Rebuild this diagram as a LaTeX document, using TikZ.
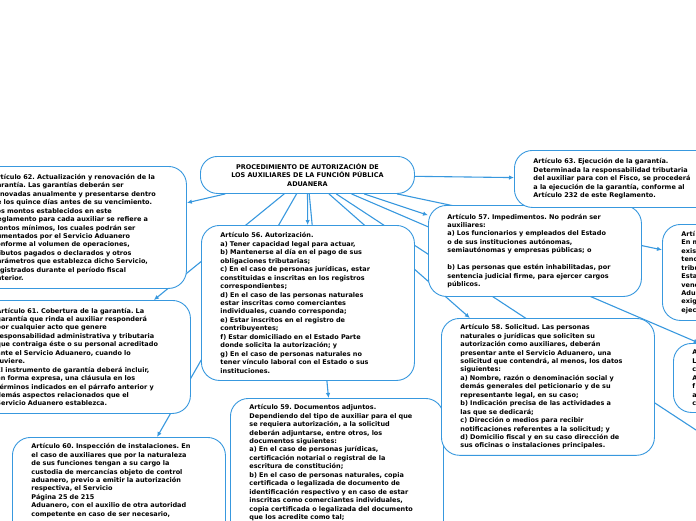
\documentclass[tikz,border=0pt]{standalone}
\usepackage{fontspec}
\setmainfont{DejaVu Sans}
\usetikzlibrary{arrows.meta, backgrounds}

\definecolor{mapblue}{RGB}{56,152,222}
\newcommand{\artfont}{\fontsize{6.5}{8.45}\selectfont\bfseries\frenchspacing}

\begin{document}
\begin{tikzpicture}[x=1pt, y=-1pt,
	art/.style={draw=mapblue, line width=0.9pt, fill=white, rounded corners=18pt, anchor=north west,
		text width=213pt, inner xsep=0pt, inner ysep=6pt, align=left, font=\artfont,
		execute at begin node={\leftskip=19pt}},
	link/.style={draw=mapblue, line width=1.1pt, -{Latex[length=5pt,width=4.5pt]}}]
	\useasboundingbox (0,0) rectangle (696,520);

	\node (cent) [draw=mapblue, line width=0.9pt, fill=white, rounded corners=17pt, anchor=north west,
		minimum width=214pt, minimum height=37pt, align=center, font=\artfont] at (200,156)
		{PROCEDIMIENTO DE AUTORIZACIÓN DE\\LOS AUXILIARES DE LA FUNCIÓN PÚBLICA\\ADUANERA};

	\node (art62) [art, minimum height=122pt] at (-27,166) {Artículo 62. Actualización y renovación de la\\garantía. Las garantías deberán ser\\renovadas anualmente y presentarse dentro\\de los quince días antes de su vencimiento.\\Los montos establecidos en este\\Reglamento para cada auxiliar se refiere a\\montos mínimos, los cuales podrán ser\\aumentados por el Servicio Aduanero\\conforme al volumen de operaciones,\\tributos pagados o declarados y otros\\parámetros que establezca dicho Servicio,\\registrados durante el período fiscal\\anterior.};
	\node (art61) [art, minimum height=113pt] at (-23,300) {Artículo 61. Cobertura de la garantía. La\\garantía que rinda el auxiliar responderá\\por cualquier acto que genere\\responsabilidad administrativa y tributaria\\que contraiga éste o su personal acreditado\\ante el Servicio Aduanero, cuando lo\\tuviere.\\El instrumento de garantía deberá incluir,\\en forma expresa, una cláusula en los\\términos indicados en el párrafo anterior y\\demás aspectos relacionados que el\\Servicio Aduanero establezca.};
	\node (art60) [art, text depth=115pt] at (12,437) {Artículo 60. Inspección de instalaciones. En\\el caso de auxiliares que por la naturaleza\\de sus funciones tengan a su cargo la\\custodia de mercancías objeto de control\\aduanero, previo a emitir la autorización\\respectiva, el Servicio\\Página 25 de 215\\Aduanero, con el auxilio de otra autoridad\\competente en caso de ser necesario,};
	\node (art56) [art, minimum height=155pt] at (201,225) {Artículo 56. Autorización.\\a) Tener capacidad legal para actuar,\\b) Mantenerse al día en el pago de sus\\obligaciones tributarias;\\c) En el caso de personas jurídicas, estar\\constituidas e inscritas en los registros\\correspondientes;\\d) En el caso de las personas naturales\\estar inscritas como comerciantes\\individuales, cuando corresponda;\\e) Estar inscritos en el registro de\\contribuyentes;\\f) Estar domiciliado en el Estado Parte\\donde solicita la autorización; y\\g) En el caso de personas naturales no\\tener vínculo laboral con el Estado o sus\\instituciones.};
	\node (art59) [art, text depth=161pt] at (230,398) {Artículo 59. Documentos adjuntos.\\Dependiendo del tipo de auxiliar para el que\\se requiera autorización, a la solicitud\\deberán adjuntarse, entre otros, los\\documentos siguientes:\\a) En el caso de personas jurídicas,\\certificación notarial o registral de la\\escritura de constitución;\\b) En el caso de personas naturales, copia\\certificada o legalizada de documento de\\identificación respectivo y en caso de estar\\inscritas como comerciantes individuales,\\copia certificada o legalizada del documento\\que los acredite como tal;};
	\node (art57) [art, minimum height=91pt] at (428,205) {Artículo 57. Impedimentos. No podrán ser\\auxiliares:\\a) Los funcionarios y empleados del Estado\\o de sus instituciones autónomas,\\semiautónomas y empresas públicas; o\\[8.45pt]b) Las personas que estén inhabilitadas, por\\sentencia judicial firme, para ejercer cargos\\públicos.};
	\node (art58) [art, minimum height=135pt] at (441,318) {Artículo 58. Solicitud. Las personas\\naturales o jurídicas que soliciten su\\autorización como auxiliares, deberán\\presentar ante el Servicio Aduanero, una\\solicitud que contendrá, al menos, los datos\\siguientes:\\a) Nombre, razón o denominación social y\\demás generales del peticionario y de su\\representante legal, en su caso;\\b) Indicación precisa de las actividades a\\las que se dedicará;\\c) Dirección o medios para recibir\\notificaciones referentes a la solicitud; y\\d) Domicilio fiscal y en su caso dirección de\\sus oficinas o instalaciones principales.};
	\node (art63) [art, minimum height=57pt] at (514,150) {Artículo 63. Ejecución de la garantía.\\Determinada la responsabilidad tributaria\\del auxiliar para con el Fisco, se procederá\\a la ejecución de la garantía, conforme al\\Artículo 232 de este Reglamento.};
	\node (art64) [art, minimum height=96pt] at (662,224) {Artí\\En m\\exis\\tenc\\tribu\\Esta\\venc\\Adu\\exig\\ejec};
	\node (art65) [art, minimum height=69pt] at (673,343) {A\\L\\c\\A\\f\\a\\c};
	\coordinate (rest) at (760,472);

	\begin{scope}[on background layer]
		\draw [link] (cent) -- (art62);
		\draw [link] (cent) -- (art61);
		\draw [link] (cent) -- (art60);
		\draw [link] (cent) -- (art56);
		\draw [link] (cent) -- (art59);
		\draw [link] (cent) -- (art58);
		\draw [link] (cent) -- (art57);
		\draw [link] (cent) -- (art63);
		\draw [link] (cent) -- (art64);
		\draw [link] (cent) -- (art65);
		\draw [link] (cent) -- (rest);
	\end{scope}
\end{tikzpicture}
\end{document}
